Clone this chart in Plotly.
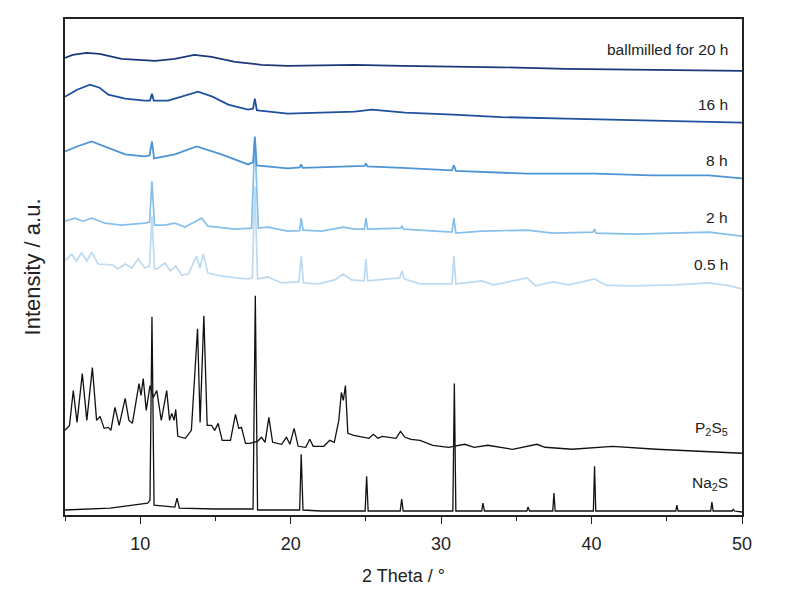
import plotly.graph_objects as go

# ---- data (2 Theta in degrees, intensity in arbitrary stacked units) ----
x_20h = [5, 5.5, 6.44, 7.3, 8.76, 11, 12.3, 13.6, 14.74, 16.3, 18.06, 19.8, 22, 24.26, 27.4, 30, 34, 38.3, 42, 46, 50]
y_20h = [459, 462, 464, 463, 458, 456, 458, 462, 460, 455, 452, 451, 451.5, 452, 451, 450.5, 449.5, 448, 447.5, 446.5, 446]

x_16h = [5, 5.8, 6.66, 7.3, 7.88, 9.0, 10.3, 10.65, 10.78, 10.9, 11.86, 12.8, 13.85, 14.8, 15.85, 17.17, 17.5, 17.62, 17.75, 17.95,
         19.8, 22, 24.26, 25.4, 27.6, 30.8, 34, 38.3, 44, 50]
y_16h = [420, 427, 432, 429, 422, 418, 416, 416, 423, 416, 416, 420, 425, 420, 412, 407, 408, 418, 406.5, 406,
         403, 404, 405, 407, 404, 402, 399.5, 398, 396, 394]

x_8h = [5, 5.8, 6.77, 7.6, 9, 10.3, 10.62, 10.78, 10.92, 12.3, 13.75, 15.4, 17.17, 17.5, 17.62, 17.74, 19.8, 20.6, 20.7, 20.8,
        23.1, 24.9, 25.0, 25.1, 27.4, 30.72, 30.85, 30.98, 35.7, 40.2, 44, 47.8, 50]
y_8h = [365, 370, 375, 370, 362, 360, 361, 375, 358, 362, 370, 362, 352, 354, 380, 351, 348, 349, 352, 348.5,
        350, 350.5, 353, 350, 348.5, 346, 351, 345.5, 342.7, 342.7, 341, 341, 338]

x_2h = [5, 5.66, 6.2, 6.77, 7.66, 8.76, 10.3, 10.62, 10.78, 10.95, 11.64, 12.3, 12.97, 13.75, 14.08, 14.5, 16.3, 17.4, 17.62, 17.85,
        18.5, 19.8, 20.6, 20.7, 20.82, 22.05, 23.5, 24.26, 24.9, 25.0, 25.12, 27.3, 27.4, 27.5, 30.72, 30.85, 30.98,
        32.7, 35.7, 37.43, 40.1, 40.2, 40.3, 42.9, 47.8, 50]
y_2h = [295, 298, 295, 298, 293, 291, 293, 294, 335, 291, 291, 293, 289, 295, 298, 290, 287, 288, 378, 288,
        289, 285, 285.5, 298, 286, 285, 289, 287, 287, 298, 287, 288, 290, 287, 284, 298, 283,
        285, 286, 283, 284, 287, 283, 282, 284, 280]

x_05h = [5, 5.44, 5.75, 6.1, 6.45, 6.77, 7.2, 8.2, 8.5, 9.0, 9.43, 9.87, 10.3, 10.62, 10.78, 10.95, 11.1, 11.64, 12.0, 12.36,
         12.75, 13.2, 13.75, 13.97, 14.19, 14.5, 15.4, 16.3, 17.17, 17.45, 17.62, 17.8, 18.5, 19.38, 20.55, 20.7, 20.85,
         21.83, 22.93, 23.5, 24.05, 24.88, 25.0, 25.12, 27.25, 27.4, 27.55, 28.6, 30.72, 30.85, 30.98, 32.7, 33.5,
         35.7, 36.3, 37.43, 38.5, 40.2, 41, 42.9, 45.6, 47.8, 49.2, 50]
y_05h = [255, 262, 255, 263, 255, 264, 252, 251, 247, 252, 248, 257, 248, 250, 300, 247, 247, 253, 245, 250,
         241, 242, 260, 248, 262, 243, 240, 238, 237, 238, 330, 237, 239, 233, 234, 260, 233,
         232, 236, 242, 236, 235, 257, 235, 238, 245, 237, 232, 232, 260, 232, 235, 231,
         238, 230, 234, 231, 237, 230.5, 230, 231, 233, 230, 227]

x_p2s5 = [5, 5.3, 5.55, 5.8, 6.15, 6.45, 6.82, 7.1, 7.33, 7.6, 7.88, 8.05, 8.32, 8.6, 9.0, 9.25, 9.48, 9.92, 10.05, 10.2,
          10.4, 10.65, 10.87, 11.1, 11.4, 11.76, 11.95, 12.1, 12.25, 12.36, 12.5, 13.0, 13.4, 13.81, 13.98, 14.23, 14.45,
          14.74, 14.95, 15.18, 15.45, 16.0, 16.33, 16.55, 16.73, 17.0, 17.3, 17.8, 18.06, 18.3, 18.55, 18.8, 19.4, 19.72,
          19.95, 20.23, 20.5, 21.0, 21.27, 21.5, 22.2, 22.6, 22.9, 23.2, 23.37, 23.5, 23.64, 23.8, 24.2, 24.8, 25.2,
          25.5, 25.8, 26.1, 26.45, 27.0, 27.3, 27.6, 28.0, 28.6, 29.45, 30.5, 31.56, 32.2, 33.1, 34.75, 36.37, 36.9,
          38.7, 41.4, 44.3, 47, 50]
y_p2s5 = [85, 90, 125, 93, 142, 95, 148, 95, 99, 87, 88, 85, 108, 90, 117, 95, 92, 132, 120, 137,
          105, 130, 118, 125, 95, 125, 95, 102, 95, 106, 79, 77, 85, 187, 93, 200, 90,
          90, 85, 92, 75, 75, 101, 87, 88, 72, 72, 74, 78, 73, 98, 73, 71, 78,
          71, 87, 69, 68, 76, 69, 69, 75, 73, 95, 123, 115, 130, 82, 80, 78, 77,
          81, 77, 79, 78, 77, 84, 78, 76, 75, 70, 68, 71, 68, 70, 66, 71, 68,
          66, 69, 66, 64, 62]

x_na2s = [5, 8, 10.5, 10.65, 10.78, 10.92, 12.3, 12.45, 12.6, 15, 17.5, 17.65, 17.8, 20.6, 20.7, 20.82, 22, 24.95, 25.05, 25.15,
          27.28, 27.38, 27.48, 30.78, 30.88, 30.98, 32.7, 32.78, 32.88, 35.7, 35.78, 35.88, 37.42, 37.5, 37.58,
          40.12, 40.2, 40.28, 45.6, 45.67, 45.75, 47.92, 48.0, 48.08, 49.35, 49.42, 49.5, 50]
y_na2s = [5, 7, 12, 15, 199, 10, 8, 17, 7, 6, 6, 220, 5, 5, 61, 5, 4, 4, 39, 4,
          4, 16, 4, 4, 132, 4, 4, 12, 4, 4, 8, 4, 4, 22, 4,
          4, 49, 4, 4, 10, 4, 4, 13, 4, 4, 6, 4, 3]

series = [
    ("Na2S", x_na2s, y_na2s, "#111111", 1.3),
    ("P2S5", x_p2s5, y_p2s5, "#111111", 1.3),
    ("0.5 h", x_05h, y_05h, "#bcdaf2", 1.7),
    ("2 h", x_2h, y_2h, "#86bfea", 1.7),
    ("8 h", x_8h, y_8h, "#4d94d4", 1.8),
    ("16 h", x_16h, y_16h, "#1f50a0", 1.8),
    ("20 h", x_20h, y_20h, "#1b3a78", 1.7),
]

labels = ["ballmilled for 20 h", "16 h", "8 h", "2 h", "0.5 h", "P<sub>2</sub>S<sub>5</sub>", "Na<sub>2</sub>S"]
label_y = [467, 412, 356, 299, 252, 87, 32]

FONT = "Liberation Sans, Arial, sans-serif"

fig = go.Figure()
for name, xs, ys, col, w in series:
    fig.add_trace(go.Scatter(x=xs, y=ys, mode="lines", name=name,
                             line=dict(color=col, width=w), showlegend=False))

for t, yv in zip(labels, label_y):
    fig.add_annotation(x=49.2, y=yv, text=t, showarrow=False, xanchor="right", yanchor="middle",
                       font=dict(family=FONT, size=15.5, color="#222222"))

fig.update_layout(
    width=787, height=597,
    margin=dict(l=57, r=53, t=9, b=90),
    paper_bgcolor="white", plot_bgcolor="white",
    font=dict(family=FONT, color="#222222"),
)
fig.update_xaxes(
    range=[5, 50], dtick=10, tick0=0, showgrid=False, zeroline=False,
    showline=True, linecolor="#222222", linewidth=1.5, mirror=True,
    ticks="outside", ticklen=7, tickwidth=1.3, tickcolor="#222222",
    minor=dict(dtick=5, tick0=0, ticks="outside", ticklen=4, tickwidth=1.3, tickcolor="#222222"),
    tickfont=dict(size=18, family=FONT, color="#222222"),
    ticklabelstandoff=5,
    title=dict(text="2 Theta / °", font=dict(size=18, family=FONT, color="#222222"), standoff=16),
)
fig.update_yaxes(
    range=[0, 498], showgrid=False, zeroline=False, showticklabels=False, ticks="",
    showline=True, linecolor="#222222", linewidth=1.5, mirror=True,
    title=dict(text="Intensity / a.u.", font=dict(size=22, family=FONT, color="#222222"), standoff=17),
)

fig.write_html("out.html")
